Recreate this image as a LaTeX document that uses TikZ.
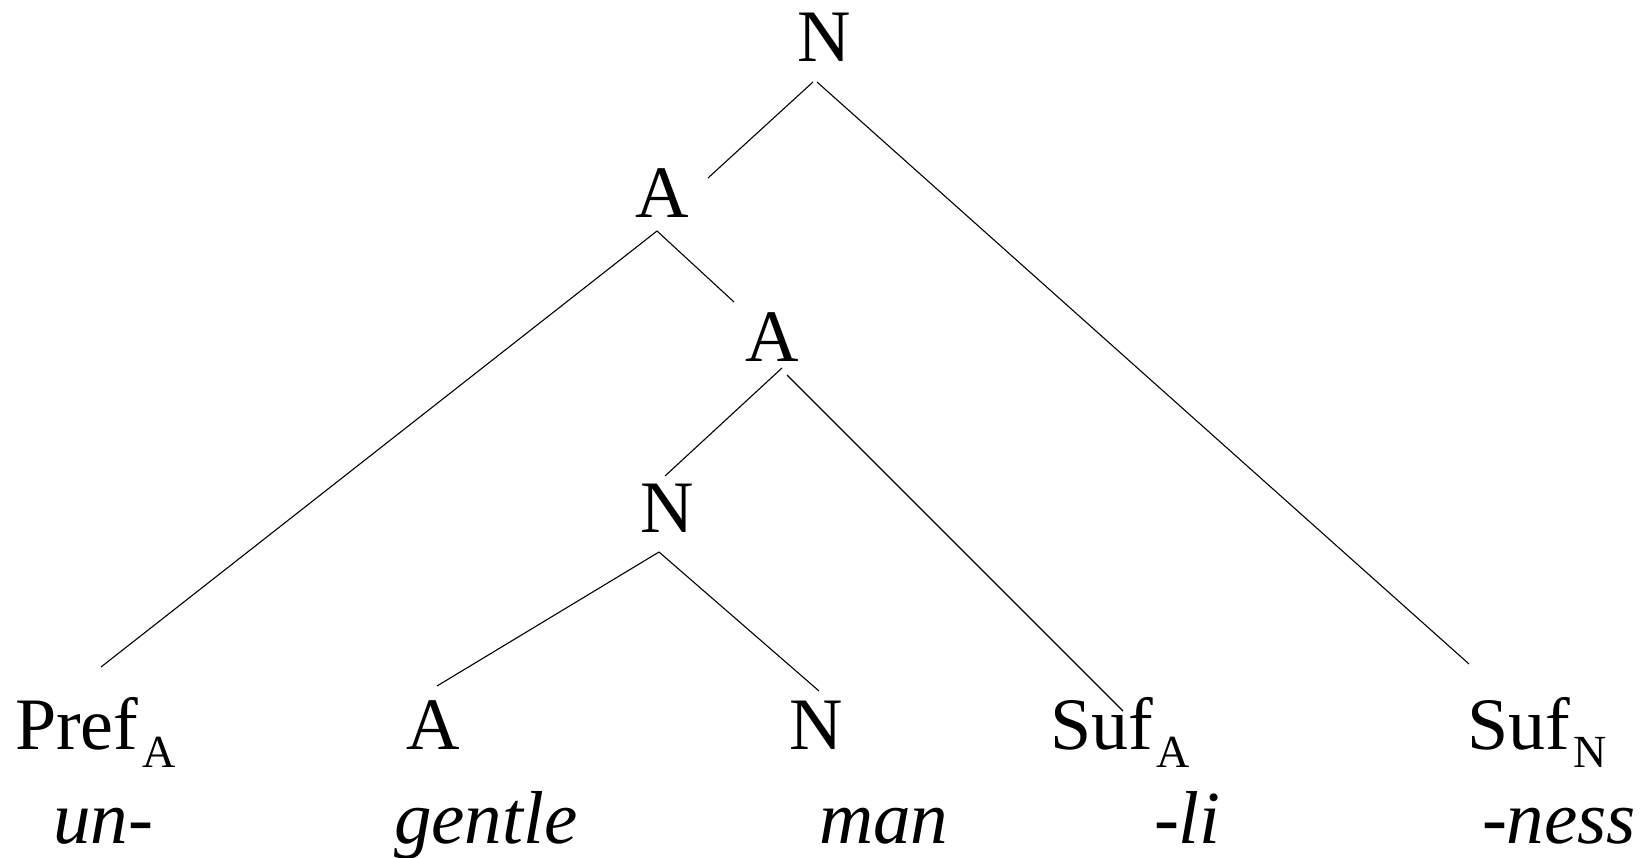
\documentclass[tikz,border=0pt]{standalone}
\usepackage{fontspec}
\setmainfont{Liberation Serif}
\begin{document}
\begin{tikzpicture}[x=1pt,y=-1pt,
  lab/.style={inner sep=0pt,outer sep=0pt,font=\fontsize{74}{80}\selectfont},
  word/.style={lab,font=\fontsize{75}{80}\selectfont\itshape,anchor=base west},
  edge/.style={draw=black,line width=1.1pt}]
\useasboundingbox[fill=white] (0,0) rectangle (1644,858);
\newcommand{\subA}[1]{\hspace{4pt}\raisebox{-18pt}{\fontsize{46}{46}\selectfont #1}}
% category nodes
\node[lab,anchor=base] (n1) at (824,62) {N};
\node[lab,anchor=base] (a2) at (662,218) {A};
\node[lab,anchor=base] (a3) at (772,362) {A};
\node[lab,anchor=base] (n4) at (667,532) {N};
\node[lab,anchor=base west] (pref) at (15,749) {Pref\subA{A}};
\node[lab,anchor=base] (ag) at (433,749) {A};
\node[lab,anchor=base] (nm) at (816,749) {N};
\node[lab,anchor=base west] (sufa) at (1050,749) {Suf\subA{A}};
\node[lab,anchor=base west] (sufn) at (1467,749) {Suf\subA{N}};
% words
\node[word] (un) at (53,843) {un-};
\node[word] (gentle) at (394,843) {gentle};
\node[word] (man) at (819,843) {man};
\node[word] (li) at (1154,843) {-li};
\node[word] (ness) at (1482,843) {-ness};
% connector end points
\coordinate (n1L) at (813,82);
\coordinate (n1R) at (817,82);
\coordinate (a2T) at (708,178);
\coordinate (a2B) at (657,231);
\coordinate (a3T) at (734,302);
\coordinate (a3L) at (782,368);
\coordinate (a3R) at (787,375);
\coordinate (n4T) at (665,476);
\coordinate (n4B) at (659,552);
\coordinate (prefT) at (101,667);
\coordinate (agT) at (437,686);
\coordinate (nmT) at (819,691);
\coordinate (sufaT) at (1123,711);
\coordinate (sufnT) at (1469,664);
% connectors
\draw[edge] (n1L) -- (a2T);
\draw[edge] (n1R) -- (sufnT);
\draw[edge] (a2B) -- (prefT);
\draw[edge] (a2B) -- (a3T);
\draw[edge] (a3L) -- (n4T);
\draw[edge] (a3R) -- (sufaT);
\draw[edge] (n4B) -- (agT);
\draw[edge] (n4B) -- (nmT);
\end{tikzpicture}
\end{document}
